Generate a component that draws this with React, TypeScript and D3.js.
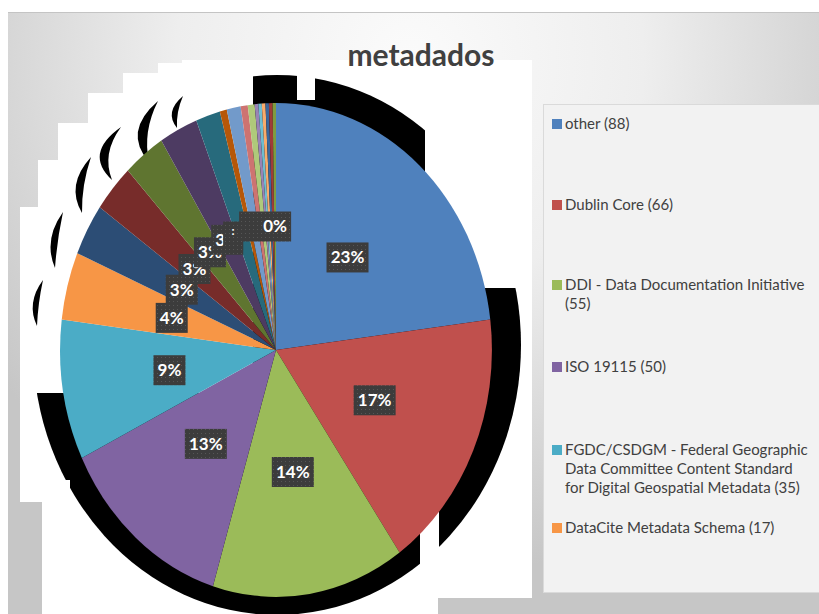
import React from "react";
import * as d3 from "d3";

const title = "metadados";
const categories = [
  "other",
  "Dublin Core",
  "DDI - Data Documentation Initiative",
  "ISO 19115",
  "FGDC/CSDGM - Federal Geographic Data Committee Content Standard for Digital Geospatial Metadata",
  "DataCite Metadata Schema",
  "item 7", "item 8", "item 9", "item 10", "item 11", "item 12", "item 13",
  "item 14", "item 15", "item 16", "item 17", "item 18", "item 19", "item 20", "item 21",
];
const values = [88, 66, 55, 50, 35, 17, 13, 12, 12, 11, 7, 2, 4, 2, 2, 1, 1, 1, 1, 1, 1];
const colors = [
  "#4F81BD", "#C0504D", "#9BBB59", "#8064A2", "#4BACC6", "#F79646",
  "#2C4D75", "#772C2A", "#5F7530", "#4D3B62", "#276A7C", "#B65708",
  "#729ACA", "#CD7371", "#AFC97A", "#9983B5", "#6FBDD1", "#F9AB6B",
  "#3A679C", "#9F3B38", "#7E9C40",
];
const legendCount = 6;
// word indices after which a legend entry wraps
const legendBreaks: Record<number, number[]> = { 2: [5], 4: [4, 8] };

const W = 819, H = 614;

function lensPath(top: [number, number], bottom: [number, number], left: number, width: number) {
  const my = (top[1] + bottom[1]) / 2;
  const cOut = [(4 * left - top[0] - bottom[0]) / 2, (4 * my - top[1] - bottom[1]) / 2];
  const cIn = [(4 * (left + width) - top[0] - bottom[0]) / 2, cOut[1]];
  return `M${top[0]},${top[1]}Q${cOut[0]},${cOut[1]} ${bottom[0]},${bottom[1]}Q${cIn[0]},${cIn[1]} ${top[0]},${top[1]}Z`;
}

export default function App() {
  const cx = 276, cy = 350, rx = 216, ry = 247;
  const total = d3.sum(values);
  const arcs = d3.pie<number>().sort(null).value((d) => d)(values);
  const arcGen = d3.arc<d3.PieArcDatum<number>>().innerRadius(0).outerRadius(1);
  const color = d3.scaleOrdinal<number, string>().domain(d3.range(values.length)).range(colors);
  const fmt = (v: number) => `${Math.round((v / total) * 100)}%`;

  // labels that show in the chart (the small ones are stacked under the last one)
  const lastIdx = arcs.length - 1;
  const labelled = arcs
    .map((a, i) => ({ a, i }))
    .filter(({ a, i }) => a.value / total >= 0.025 || i === lastIdx);

  const plotArea = [
    [182, 60], [532, 60], [532, 598], [438, 598], [438, 614], [42, 614], [42, 502], [20, 502],
    [20, 207], [38, 207], [38, 160], [58, 160], [58, 123], [88, 123], [88, 93], [123, 93],
    [123, 73], [158, 73], [158, 63], [182, 63],
  ].map((p) => p.join(",")).join(" ");

  const crescents: [[number, number], [number, number], number, number][] = [
    [[121, 127], [112, 180], 100, 9],
    [[158, 101], [149, 162], 138, 10],
    [[183, 96], [177, 128], 172, 6],
    [[91, 157], [82, 213], 76, 8],
    [[63, 212], [55, 268], 51, 7],
    [[43, 280], [37, 326], 33, 6],
  ];

  const legendY = [124, 205, 285, 367, 450, 528];
  const lineH = 19;

  const legendEntries = categories.slice(0, legendCount).map((c, i) => {
    const words = `${c} (${values[i]})`.split(" ");
    const breaks = legendBreaks[i] || [];
    const lines: string[] = [];
    let start = 0;
    for (const b of breaks) {
      lines.push(words.slice(start, b).join(" "));
      start = b;
    }
    lines.push(words.slice(start).join(" "));
    return { lines, color: color(i) };
  });

  return (
    <svg width={W} height={H} style={{ position: "fixed", left: 0, top: 0 }} fontFamily="Lato, 'Open Sans', sans-serif">
      <defs>
        <radialGradient id="bg" gradientUnits="userSpaceOnUse" cx={410} cy={60} r={520}>
          <stop offset="0" stopColor="#fbfbfb" />
          <stop offset="0.45" stopColor="#eeeeee" />
          <stop offset="1" stopColor="#c6c6c6" />
        </radialGradient>
        <pattern id="dots" width={4} height={4} patternUnits="userSpaceOnUse">
          <rect width={4} height={4} fill="#3c3c3c" />
          <rect x={1} y={1} width={1} height={1} fill="#565656" />
        </pattern>
        <mask id="shadowMask">
          <rect width={W} height={H} fill="white" />
          <rect x={0} y={0} width={253} height={393} fill="black" />
          <rect x={297} y={0} width={18} height={100} fill="black" />
          <rect x={425} y={0} width={120} height={288} fill="black" />
          <rect x={20} y={480} width={50} height={22} fill="black" />
          <rect x={420} y={507} width={19} height={110} fill="black" />
        </mask>
      </defs>

      <rect width={W} height={H} fill="#ffffff" />
      <rect x={8} y={12} width={W - 8} height={H - 12} fill="url(#bg)" />
      <line x1={8} x2={W} y1={12.5} y2={12.5} stroke="#c4c4c4" />
      <polygon points={plotArea} fill="#ffffff" />

      {/* rendering artefact: black shadow behind the pie */}
      <ellipse cx={277} cy={345} rx={244} ry={270} fill="#000" mask="url(#shadowMask)" />
      {crescents.map((c, i) => (
        <path key={i} d={lensPath(c[0], c[1], c[2], c[3])} fill="#000" />
      ))}

      <g transform={`translate(${cx},${cy}) scale(${rx},${ry})`}>
        {arcs.map((a, i) => (
          <path key={i} d={arcGen(a) || ""} fill={color(i)} />
        ))}
      </g>

      {labelled.map(({ a, i }) => {
        const [x, y] = arcGen.centroid(a);
        const px = cx + x * rx;
        const py = cy + y * ry;
        const txt = fmt(a.value);
        const bw = txt.length * 10 + 12;
        const bh = 30;
        const isLast = i === lastIdx;
        // the last box also covers the stacked labels of the thin slices to its left
        const extra = isLast ? 20 : 0;
        return (
          <g key={i}>
            {isLast && (
              <rect x={px - 52} y={py - 5} width={20} height={29} fill="url(#dots)" />
            )}
            <rect x={px - bw / 2 - extra} y={py - bh / 2} width={bw + extra} height={bh} fill="url(#dots)" />
            {isLast && (
              <text x={px - 42} y={py + 8} fill="#ffffff" fontWeight={700} fontSize={12} textAnchor="middle">
                :
              </text>
            )}
            <text x={px} y={py} dy="0.35em" textAnchor="middle" fill="#ffffff" fontWeight={700} fontSize={17}>
              {txt}
            </text>
          </g>
        );
      })}

      <text x={421} y={66} textAnchor="middle" fontSize={30} fontWeight={700} fill="#404040">
        {title}
      </text>

      <rect x={543.5} y={104.5} width={W - 543} height={488} fill="#f2f2f2" stroke="#dadada" />
      {legendEntries.map((e, i) => (
        <g key={i}>
          <rect x={552} y={legendY[i] - 5} width={10} height={10} fill={e.color} />
          {e.lines.map((l, j) => (
            <text key={j} x={565} y={legendY[i] + j * lineH} dy="0.35em" fontSize={15} fill="#404040">
              {l}
            </text>
          ))}
        </g>
      ))}
    </svg>
  );
}
